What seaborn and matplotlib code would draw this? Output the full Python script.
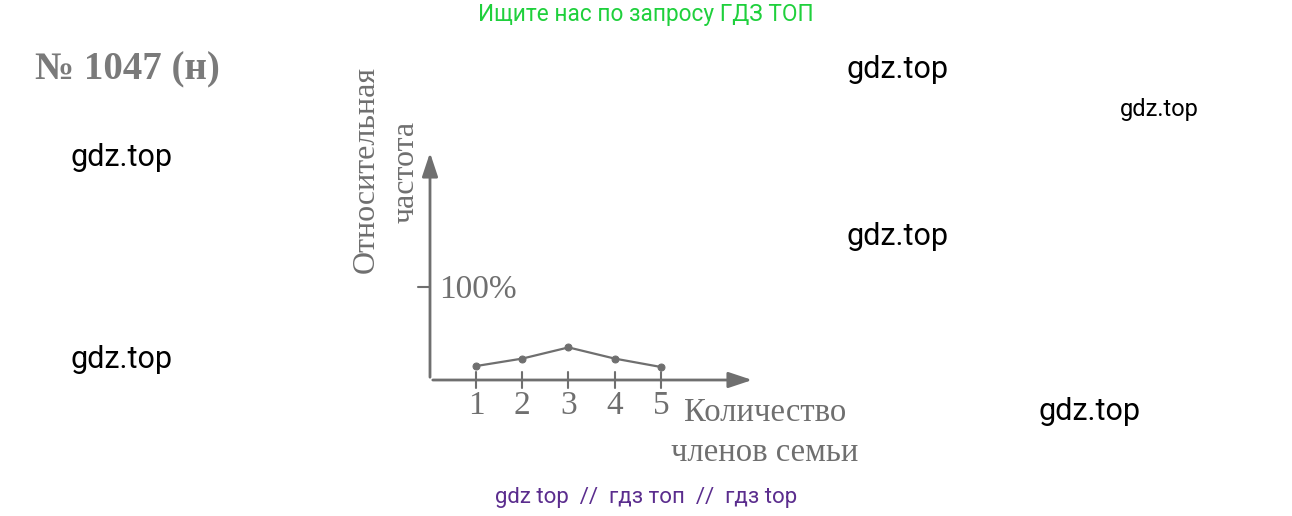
import matplotlib.pyplot as plt
import seaborn as sns

sns.set_theme(style="white")
plt.rcParams['font.family'] = ['Liberation Serif', 'DejaVu Serif']

# данные
members = [1, 2, 3, 4, 5]
freq = [15, 23, 35, 23, 14]
tick_labels = ['1', '2', '3', '4', '5']

W, H = 1292, 516
fig = plt.figure(figsize=(W / 100, H / 100), dpi=100)
fig.patch.set_facecolor('white')

gray = '#6f6f6f'

def px(x, y):
    return x / W, 1 - y / H

ax = fig.add_axes([430 / W, (H - 380) / H, 325 / W, 230 / H])
ax.set_xlim(0, 7.04)
ax.set_ylim(0, 247)
ax.axis('off')

sns.lineplot(x=members, y=freq, ax=ax, color=gray, lw=1.6, marker='o',
             markersize=5, markeredgecolor=gray, clip_on=False)

# оси со стрелками
ax.annotate('', xy=(1, 0), xytext=(0, 0), xycoords='axes fraction',
            arrowprops=dict(arrowstyle='-|>,head_length=1.2,head_width=0.4', color=gray, lw=2))
ax.annotate('', xy=(0, 1), xytext=(0, 0), xycoords='axes fraction',
            arrowprops=dict(arrowstyle='-|>,head_length=1.2,head_width=0.4', color=gray, lw=2))

for m, lab in zip(members, tick_labels):
    ax.plot([m, m], [-9, 9], color=gray, lw=1.5, clip_on=False)
    ax.text(m, -28, lab, ha='center', va='center', fontsize=24, color=gray)
ax.plot([-0.27, 0], [100, 100], color=gray, lw=1.5, clip_on=False)
ax.text(0.2, 97, '100%', ha='left', va='center', fontsize=24, color=gray)

# подписи учебника
fig.text(*px(35, 70), '№ 1047 (н)', fontsize=28, fontweight='bold', color='#7a7a7a', va='center')
fig.text(*px(366, 170), 'Относительная', rotation=90, fontsize=23, color=gray, ha='center', va='center')
fig.text(*px(406, 172), 'частота', rotation=90, fontsize=23, color=gray, ha='center', va='center')
fig.text(*px(765, 413), 'Количество', fontsize=23.5, color=gray, ha='center', va='center')
fig.text(*px(765, 453), 'членов семьи', fontsize=23.5, color=gray, ha='center', va='center')

# водяные знаки
wm = ['Roboto', 'DejaVu Sans']
fig.text(*px(646, 14), 'Ищите нас по запросу ГДЗ ТОП', family=wm, fontsize=16.3,
         color='#1fd03c', ha='center', va='center')
for x, y, s in [(897, 69, 22), (122, 157, 22), (897, 237, 22), (122, 359, 22),
                (1090, 411, 22), (1159, 110, 17)]:
    fig.text(*px(x, y), 'gdz.top', family=wm, fontsize=s, color='black', ha='center', va='center')
fig.text(*px(646, 498), 'gdz top  //  гдз топ  //  гдз top', family=wm, fontsize=16,
         color='#5b2d8e', ha='center', va='center')

fig.savefig('out.png', dpi=100)
